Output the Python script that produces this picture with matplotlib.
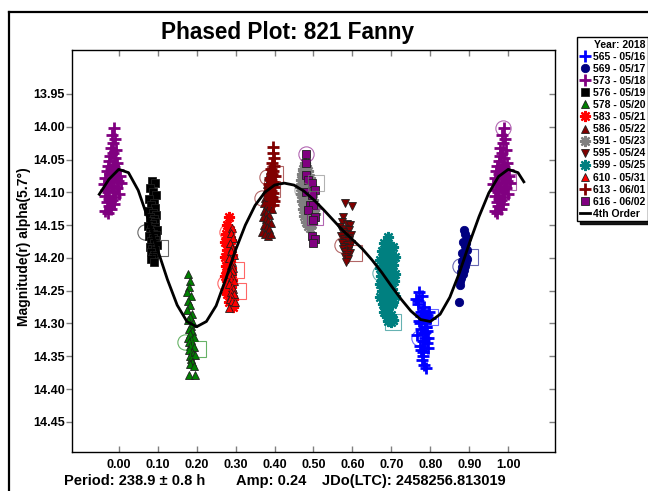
import matplotlib
matplotlib.use("Agg")
import matplotlib.pyplot as plt
from matplotlib.lines import Line2D

plt.rcParams['font.family'] = ['Liberation Sans', 'DejaVu Sans']
plt.rcParams['font.weight'] = 'bold'

# session labels (run number - date) and their point styles
sessions = ["565 - 05/16", "569 - 05/17", "573 - 05/18", "576 - 05/19", "578 - 05/20",
            "583 - 05/21", "586 - 05/22", "591 - 05/23", "595 - 05/24", "599 - 05/25",
            "610 - 05/31", "613 - 06/01", "616 - 06/02"]
colors = ["#0000ff", "#000080", "#800080", "#000000", "#008000", "#ff0000", "#800000",
          "#808080", "#800000", "#008080", "#ff0000", "#800000", "#800080"]
markers = ["+", "o", "+", "s", "^", (8, 2, 0), "^", (8, 2, 0), "v", (8, 2, 0), "^", "+", "s"]

# phased observations
ph_565 = [0.771, 0.764, 0.779, 0.767, 0.784, 0.775, 0.769, 0.788, 0.780, 0.773, 0.792, 0.777, 0.785,
          0.766, 0.796, 0.782, 0.790, 0.774, 0.799, 0.786, 0.779, 0.794, 0.770, 0.788, 0.783, 0.776,
          0.791, 0.781, 0.787, 0.778, 0.793, 0.784, 0.780, 0.789, 0.785, 0.776, 0.791, 0.783]
mag_565 = [14.252, 14.262, 14.258, 14.270, 14.275, 14.283, 14.266, 14.291, 14.281, 14.300, 14.287,
           14.309, 14.296, 14.318, 14.282, 14.326, 14.305, 14.334, 14.291, 14.313, 14.287, 14.322,
           14.297, 14.306, 14.315, 14.341, 14.330, 14.350, 14.322, 14.356, 14.338, 14.363, 14.344,
           14.368, 14.300, 14.288, 14.312, 14.327]

ph_569 = [0.886, 0.890, 0.893, 0.884, 0.888, 0.892, 0.895, 0.882, 0.887, 0.891, 0.885, 0.889, 0.894,
          0.880, 0.884, 0.888, 0.878, 0.883, 0.887, 0.891, 0.879, 0.882, 0.876, 0.877, 0.874]
mag_569 = [14.158, 14.164, 14.170, 14.176, 14.182, 14.178, 14.188, 14.192, 14.196, 14.200, 14.205,
           14.209, 14.202, 14.214, 14.218, 14.212, 14.221, 14.225, 14.219, 14.207, 14.230, 14.204,
           14.236, 14.241, 14.267]

ph_573 = [0.988, 0.983, 0.991, 0.986, 0.980, 0.993, 0.984, 0.978, 0.990, 0.975, 0.996, 0.985, 0.972,
          0.989, 0.981, 0.999, 0.969, 0.986, 0.977, 1.002, 0.992, 0.966, 0.983, 0.997, 0.974, 1.005,
          0.962, 0.988, 0.979, 0.995, 0.968, 0.984, 0.973, 1.000, 0.965, 0.990, 0.976, 0.982, 0.970,
          0.987, 0.974, 0.981, 0.966, 0.972]
mag_573 = [14.002, 14.012, 14.018, 14.025, 14.032, 14.036, 14.040, 14.045, 14.047, 14.052, 14.055,
           14.058, 14.060, 14.062, 14.065, 14.066, 14.068, 14.070, 14.072, 14.075, 14.077, 14.078,
           14.080, 14.082, 14.084, 14.086, 14.088, 14.090, 14.092, 14.094, 14.096, 14.098, 14.100,
           14.103, 14.105, 14.107, 14.110, 14.112, 14.115, 14.118, 14.121, 14.125, 14.128, 14.131]

ph_576 = [0.085, 0.092, 0.080, 0.088, 0.095, 0.078, 0.090, 0.084, 0.093, 0.076, 0.087, 0.096, 0.081,
          0.091, 0.079, 0.094, 0.086, 0.075, 0.092, 0.083, 0.098, 0.080, 0.089, 0.095, 0.077, 0.087,
          0.093, 0.082, 0.090, 0.097, 0.079, 0.086, 0.094, 0.083, 0.091, 0.088, 0.084, 0.090]
mag_576 = [14.082, 14.086, 14.093, 14.100, 14.104, 14.110, 14.116, 14.120, 14.124, 14.128, 14.132,
           14.135, 14.138, 14.140, 14.143, 14.146, 14.149, 14.151, 14.153, 14.156, 14.158, 14.160,
           14.163, 14.165, 14.167, 14.170, 14.172, 14.175, 14.177, 14.180, 14.183, 14.186, 14.188,
           14.191, 14.195, 14.198, 14.202, 14.206]

ph_578 = [0.177, 0.183, 0.181, 0.176, 0.186, 0.179, 0.184, 0.175, 0.188, 0.182, 0.178, 0.190, 0.185,
          0.180, 0.187, 0.183, 0.192, 0.178, 0.186, 0.181, 0.189, 0.184, 0.194, 0.180, 0.187, 0.191,
          0.183, 0.196, 0.186, 0.189, 0.182, 0.193, 0.180, 0.195]
mag_578 = [14.224, 14.235, 14.245, 14.252, 14.258, 14.266, 14.272, 14.280, 14.285, 14.290, 14.295,
           14.300, 14.304, 14.308, 14.312, 14.316, 14.320, 14.322, 14.325, 14.328, 14.331, 14.334,
           14.336, 14.340, 14.343, 14.346, 14.350, 14.348, 14.354, 14.358, 14.362, 14.365, 14.378,
           14.378]

ph_583 = [0.284, 0.279, 0.286, 0.276, 0.282, 0.288, 0.274, 0.280, 0.285, 0.277, 0.283, 0.290, 0.272,
          0.278, 0.286, 0.281, 0.275, 0.289, 0.283, 0.279, 0.287, 0.273, 0.282, 0.291, 0.277, 0.285,
          0.280, 0.288, 0.276, 0.284, 0.279, 0.293, 0.282, 0.294]
mag_583 = [14.137, 14.150, 14.158, 14.163, 14.168, 14.172, 14.176, 14.180, 14.184, 14.188, 14.192,
           14.196, 14.199, 14.202, 14.205, 14.208, 14.212, 14.215, 14.218, 14.221, 14.224, 14.227,
           14.230, 14.233, 14.236, 14.239, 14.242, 14.245, 14.248, 14.251, 14.255, 14.262, 14.268,
           14.275]

ph_586 = [0.392, 0.388, 0.395, 0.384, 0.390, 0.397, 0.381, 0.387, 0.393, 0.378, 0.385, 0.391, 0.398,
          0.376, 0.383, 0.389, 0.374, 0.381, 0.387, 0.394, 0.372, 0.379, 0.385, 0.370, 0.377, 0.383,
          0.390, 0.372, 0.380, 0.386, 0.369, 0.376, 0.382, 0.392]
mag_586 = [14.060, 14.066, 14.071, 14.075, 14.079, 14.083, 14.087, 14.090, 14.093, 14.096, 14.099,
           14.102, 14.105, 14.108, 14.111, 14.114, 14.117, 14.120, 14.123, 14.126, 14.129, 14.132,
           14.135, 14.138, 14.141, 14.144, 14.147, 14.150, 14.153, 14.156, 14.160, 14.163, 14.166,
           14.163]

ph_591 = [0.478, 0.482, 0.474, 0.486, 0.470, 0.480, 0.490, 0.468, 0.476, 0.484, 0.494, 0.465, 0.473,
          0.481, 0.489, 0.498, 0.467, 0.475, 0.483, 0.491, 0.500, 0.470, 0.478, 0.486, 0.494, 0.503,
          0.472, 0.480, 0.488, 0.496, 0.505, 0.476, 0.484, 0.492, 0.500, 0.480, 0.488, 0.496, 0.485,
          0.492]
mag_591 = [14.055, 14.060, 14.065, 14.068, 14.072, 14.075, 14.078, 14.081, 14.084, 14.087, 14.089,
           14.092, 14.094, 14.096, 14.098, 14.100, 14.103, 14.105, 14.107, 14.109, 14.111, 14.114,
           14.116, 14.118, 14.120, 14.122, 14.125, 14.127, 14.129, 14.131, 14.133, 14.136, 14.138,
           14.140, 14.142, 14.145, 14.147, 14.149, 14.152, 14.155]

ph_595 = [0.581, 0.598, 0.577, 0.572, 0.586, 0.593, 0.569, 0.580, 0.590, 0.575, 0.584, 0.595, 0.571,
          0.588, 0.578, 0.592, 0.583, 0.574, 0.597, 0.586, 0.579, 0.591, 0.576, 0.588, 0.582, 0.594,
          0.585, 0.580, 0.589, 0.583]
mag_595 = [14.117, 14.121, 14.137, 14.145, 14.148, 14.150, 14.153, 14.156, 14.158, 14.160, 14.163,
           14.165, 14.167, 14.169, 14.171, 14.173, 14.175, 14.177, 14.179, 14.181, 14.183, 14.185,
           14.187, 14.189, 14.191, 14.193, 14.196, 14.199, 14.202, 14.206]

ph_599 = [0.692, 0.680, 0.688, 0.696, 0.704, 0.676, 0.684, 0.692, 0.700, 0.708, 0.672, 0.680, 0.688,
          0.696, 0.704, 0.670, 0.678, 0.686, 0.694, 0.702, 0.710, 0.674, 0.682, 0.690, 0.698, 0.706,
          0.670, 0.678, 0.686, 0.694, 0.702, 0.676, 0.684, 0.692, 0.700, 0.708, 0.672, 0.680, 0.688,
          0.696, 0.704, 0.678, 0.686, 0.694, 0.702, 0.682, 0.690, 0.698, 0.688, 0.696, 0.704, 0.690,
          0.698, 0.705]
mag_599 = [14.168, 14.178, 14.180, 14.182, 14.184, 14.190, 14.192, 14.194, 14.196, 14.198, 14.203,
           14.205, 14.207, 14.209, 14.211, 14.215, 14.217, 14.219, 14.221, 14.223, 14.225, 14.228,
           14.230, 14.232, 14.234, 14.236, 14.240, 14.242, 14.244, 14.246, 14.248, 14.250, 14.252,
           14.254, 14.256, 14.258, 14.260, 14.262, 14.264, 14.266, 14.268, 14.270, 14.272, 14.274,
           14.271, 14.283, 14.285, 14.287, 14.290, 14.292, 14.294, 14.296, 14.298, 14.295]

ph_610 = [0.291, 0.288, 0.294, 0.286, 0.292, 0.289, 0.296, 0.284, 0.291, 0.287, 0.294, 0.290, 0.285,
          0.292, 0.288, 0.295, 0.283, 0.290, 0.293, 0.287, 0.296, 0.289, 0.286, 0.292, 0.298, 0.284]
mag_610 = [14.155, 14.162, 14.170, 14.178, 14.185, 14.190, 14.196, 14.200, 14.206, 14.211, 14.216,
           14.220, 14.225, 14.229, 14.233, 14.236, 14.240, 14.244, 14.248, 14.252, 14.255, 14.258,
           14.262, 14.265, 14.268, 14.276]

ph_613 = [0.397, 0.395, 0.399, 0.393, 0.398, 0.391, 0.396, 0.394, 0.400, 0.389, 0.392, 0.397, 0.386,
          0.394, 0.399, 0.388, 0.391, 0.396, 0.385, 0.393, 0.390, 0.398, 0.387, 0.395]
mag_613 = [14.031, 14.040, 14.047, 14.055, 14.060, 14.065, 14.068, 14.072, 14.075, 14.078, 14.081,
           14.084, 14.087, 14.090, 14.092, 14.095, 14.098, 14.101, 14.104, 14.107, 14.110, 14.113,
           14.116, 14.120]

ph_616 = [0.481, 0.481, 0.481, 0.487, 0.495, 0.504, 0.482, 0.495, 0.491, 0.500, 0.487, 0.504, 0.500,
          0.495, 0.504, 0.499]
mag_616 = [14.041, 14.055, 14.073, 14.081, 14.086, 14.096, 14.099, 14.104, 14.119, 14.119, 14.127,
           14.138, 14.142, 14.167, 14.171, 14.178]

phases = [ph_565, ph_569, ph_573, ph_576, ph_578, ph_583, ph_586, ph_591, ph_595, ph_599,
          ph_610, ph_613, ph_616]
mags = [mag_565, mag_569, mag_573, mag_576, mag_578, mag_583, mag_586, mag_591, mag_595, mag_599,
        mag_610, mag_613, mag_616]

# first (circle) and last (square) point of each session
first_ph = [0.770, 0.875, 0.987, 0.067, 0.170, 0.277, 0.367, 0.470, 0.572, 0.671, 0.274, 0.380, 0.481]
first_mag = [14.322, 14.213, 14.002, 14.160, 14.329, 14.160, 14.109, 14.096, 14.180, 14.223, 14.238,
             14.077, 14.041]
last_ph = [0.800, 0.902, 1.000, 0.105, 0.204, 0.302, 0.401, 0.506, 0.604, 0.705, 0.306, 0.394, 0.504]
last_mag = [14.290, 14.198, 14.084, 14.185, 14.339, 14.218, 14.072, 14.086, 14.192, 14.298, 14.250,
            14.095, 14.138]

# 4th order Fourier fit
fit_ph = [-0.05, -0.025, 0.0, 0.025, 0.05, 0.075, 0.1, 0.125, 0.15, 0.175, 0.2, 0.225, 0.25, 0.275,
          0.3, 0.325, 0.35, 0.375, 0.4, 0.425, 0.45, 0.475, 0.5, 0.525, 0.55, 0.575, 0.6, 0.625,
          0.65, 0.675, 0.7, 0.725, 0.75, 0.775, 0.8, 0.825, 0.85, 0.875, 0.9, 0.925, 0.95, 0.975,
          1.0, 1.025, 1.04]
fit_mag = [14.103, 14.080, 14.065, 14.070, 14.097, 14.140, 14.188, 14.233, 14.272, 14.297, 14.305,
           14.297, 14.273, 14.232, 14.188, 14.150, 14.120, 14.100, 14.089, 14.086, 14.089, 14.098,
           14.111, 14.126, 14.142, 14.158, 14.172, 14.186, 14.203, 14.222, 14.243, 14.263, 14.281,
           14.294, 14.297, 14.286, 14.260, 14.222, 14.178, 14.137, 14.101, 14.076, 14.065, 14.070,
           14.084]

x_ticks = [0.0, 0.1, 0.2, 0.3, 0.4, 0.5, 0.6, 0.7, 0.8, 0.9, 1.0]
y_ticks = [13.95, 14.00, 14.05, 14.10, 14.15, 14.20, 14.25, 14.30, 14.35, 14.40, 14.45]

W, H = 648, 491
fig = plt.figure(figsize=(W / 100, H / 100), dpi=100)
ax = fig.add_axes([72 / W, 1 - 452 / H, (555 - 72) / W, (452 - 50) / H])

for i, name in enumerate(sessions):
    p = list(phases[i])
    m = list(mags[i])
    # repeat points that fall inside the display window after wrapping
    for pp, mm in zip(phases[i], mags[i]):
        if pp - 1 >= -0.05:
            p.append(pp - 1)
            m.append(mm)
        if pp + 1 <= 1.05:
            p.append(pp + 1)
            m.append(mm)
    mk = markers[i]
    if mk == "+":
        style = dict(markersize=8, markeredgewidth=2.0, color=colors[i])
    elif isinstance(mk, tuple):
        style = dict(markersize=8, markeredgewidth=1.6, color=colors[i])
    else:
        edge = colors[i] if mk == "o" else "#202020"
        style = dict(markersize=6, markeredgewidth=0.6, color=colors[i], markeredgecolor=edge)
    ax.plot(p, m, linestyle="none", marker=mk, label=name, zorder=2, **style)

    ax.plot(first_ph[i], first_mag[i], linestyle="none", marker="o", markersize=11,
            markerfacecolor="none", markeredgecolor=colors[i], markeredgewidth=0.8,
            alpha=0.6, zorder=3)
    ax.plot(last_ph[i], last_mag[i], linestyle="none", marker="s", markersize=11,
            markerfacecolor="none", markeredgecolor=colors[i], markeredgewidth=0.8,
            alpha=0.6, zorder=3)

ax.plot(fit_ph, fit_mag, color="black", linewidth=2.0, label="4th Order", zorder=4)

ax.set_xlim(-0.12, 1.12)
ax.set_ylim(14.496, 13.883)
ax.set_xticks(x_ticks)
ax.set_yticks(y_ticks)
ax.set_xticklabels(["%.2f" % v for v in x_ticks])
ax.set_yticklabels(["%.2f" % v for v in y_ticks])
ax.tick_params(axis="x", direction="in", top=True, bottom=True, length=4, width=1,
               color="#808080", labelsize=9, pad=5)
ax.tick_params(axis="y", direction="out", left=True, right=True, length=4, width=1,
               color="#808080", labelsize=9, pad=1)
# right-hand ticks point into the frame
for t in ax.yaxis.get_major_ticks():
    t.tick2line.set_marker(matplotlib.lines.TICKLEFT)
for s in ax.spines.values():
    s.set_linewidth(1.0)
    s.set_color("black")

leg = ax.legend(loc="upper left", bbox_to_anchor=(577 / W, 1 - 37 / H),
                bbox_transform=fig.transFigure, borderaxespad=0, numpoints=1,
                title="Year: 2018", alignment="right", fontsize=7.5,
                title_fontproperties={"weight": "bold", "size": 7.5},
                handlelength=1.0, handletextpad=0.3, labelspacing=0.2, borderpad=0.25,
                fancybox=False, shadow={"color": "black", "alpha": 0.9},
                edgecolor="black", framealpha=1)
leg.get_frame().set_linewidth(1.0)

fig.text(288 / W, 1 - 33 / H, "Phased Plot: 821 Fanny", ha="center", va="center",
         fontsize=16.3, fontweight="bold")
fig.text(24 / W, 1 - 247 / H, "Magnitude(r) alpha(5.7°)", rotation=90, ha="center",
         va="center", fontsize=10, fontweight="bold")
fig.text(64 / W, 1 - 481 / H, "Period: 238.9 ± 0.8 h", ha="left", va="center",
         fontsize=10.5, fontweight="bold")
fig.text(236 / W, 1 - 481 / H, "Amp: 0.24", ha="left", va="center",
         fontsize=10.5, fontweight="bold")
fig.text(322 / W, 1 - 481 / H, "JDo(LTC): 2458256.813019", ha="left", va="center",
         fontsize=10.5, fontweight="bold")

# outer border
fig.add_artist(Line2D([9 / W, 9 / W], [0, 1 - 12 / H], color="black", linewidth=1.6,
                      transform=fig.transFigure))
fig.add_artist(Line2D([9 / W, 1], [1 - 12 / H, 1 - 12 / H], color="black", linewidth=1.6,
                      transform=fig.transFigure))

fig.savefig("out.png", dpi=100)
